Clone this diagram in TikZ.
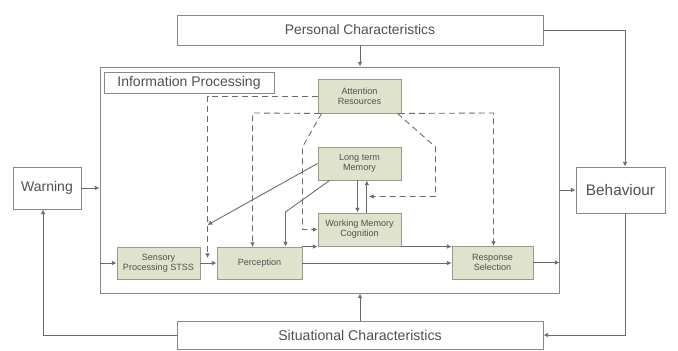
\documentclass[tikz,border=0pt]{standalone}
\usepackage{fontspec}
\setmainfont{Liberation Sans}
\usetikzlibrary{arrows.meta,calc}
\definecolor{boxfill}{HTML}{E0E3CC}
\definecolor{boxline}{HTML}{9A9A8A}
\definecolor{lncol}{HTML}{6A6A6A}
\definecolor{txtcol}{HTML}{505050}
\begin{document}
\begin{tikzpicture}[x=0.75pt,y=-0.75pt,
  outer/.style={draw=lncol!80,line width=0.7pt,fill=white,inner sep=0pt,align=center,text=txtcol},
  proc/.style={draw=boxline,line width=0.7pt,fill=boxfill,inner sep=0pt,align=center,text=txtcol,font=\fontsize{6.8}{7.6}\selectfont},
  conn/.style={draw=lncol,line width=0.65pt,-{Latex[length=3.5pt,width=3.5pt]}},
  dconn/.style={conn,dash pattern=on 4.5pt off 3pt}]
\useasboundingbox (0,0) rectangle (678,350);
% outer boxes
\node[outer,minimum width=274.5pt,minimum height=22.5pt,font=\fontsize{10.4}{11}\selectfont] (pc) at (360,30) {Personal Characteristics};
\node[outer,minimum width=344.25pt,minimum height=169.5pt] (ip) at (329.5,180) {};
\node[outer,minimum width=127.5pt,minimum height=15.75pt,font=\fontsize{10.5}{11}\selectfont] (ipl) at (189,82.5) {Information Processing};
\node[outer,minimum width=51pt,minimum height=31.5pt,font=\fontsize{10.5}{11}\selectfont] (warn) at (47,188) {Warning};
\node[outer,minimum width=66.75pt,minimum height=34.5pt,font=\fontsize{11.5}{12}\selectfont] (beh) at (620.5,190) {Behaviour};
\node[outer,minimum width=274.5pt,minimum height=21pt,font=\fontsize{10.6}{11}\selectfont] (sc) at (360,335) {Situational Characteristics};
% process boxes
\node[proc,minimum width=62.25pt,minimum height=25.5pt] (ar) at (359.5,96) {Attention\\Resources};
\node[proc,minimum width=62.25pt,minimum height=24.75pt] (ltm) at (359.5,163.5) {Long term\\Memory};
\node[proc,minimum width=62.25pt,minimum height=24.75pt] (wm) at (359.5,229.5) {Working Memory\\Cognition};
\node[proc,minimum width=62.25pt,minimum height=24pt] (sp) at (158.5,263) {Sensory\\Processing STSS};
\node[proc,minimum width=63.75pt,minimum height=24pt] (perc) at (259.5,263) {Perception};
\node[proc,minimum width=60.75pt,minimum height=24.75pt] (rs) at (492.5,262.5) {Response\\Selection};
% helper coordinates
\coordinate (c1) at (207.5,225);
\coordinate (c2) at (207.5,258);
\coordinate (c3) at (285.5,212);
\coordinate (c4) at (369,196.5);
% outer connectors
\draw[conn] (pc.south) -- (pc.south |- ip.north);
\draw[conn] (pc.east) -| ([xshift=3.4pt]beh.north);
\draw[conn] ([xshift=3.4pt]beh.south) |- (sc.east);
\draw[conn] (sc.north) -- (sc.north |- ip.south);
\draw[conn] (sc.west) -| ([xshift=-3pt]warn.south);
\draw[conn] (warn.east) -- (warn.east -| ip.west);
\draw[conn] (ip.east |- beh.west) -- (beh.west);
% inner connectors
\draw[conn] (sp.west -| ip.west) -- (sp.west);
\draw[conn] (sp.east) -- (perc.west);
\draw[conn] (rs.east) -- (rs.east -| ip.east);
\draw[conn] (perc.east) -- (perc.east -| rs.west);
\draw[conn] (perc.north east) -- (perc.north east -| wm.west);
\draw[conn] (perc.north east -| wm.east) -- (perc.north east -| rs.west);
\draw[conn] ([xshift=-1.5pt]ltm.south) -- ([xshift=-1.5pt]wm.north);
\draw[conn] ([xshift=5.5pt]wm.north) -- ([xshift=5.5pt]ltm.south);
\draw[conn] (ltm.west) -- (c1);
\draw[conn] ([xshift=9pt]ltm.south west) -- (c3) -- (c3 |- perc.north);
% dashed connectors
\draw[dconn] (ar.west) -| (c2);
\draw[dconn] ([xshift=2pt]ar.south west) -- (252.5,113) -- (252.5,247);
\draw[dconn] ([xshift=-2pt]ar.south east) -- (493.5,113) -- (493.5,246);
\draw[dconn] ([xshift=3pt]ar.south west) -- (302.5,147) -- (302.5,229.5) -- (wm.west);
\draw[dconn] ([xshift=-3pt]ar.south east) -- (435.5,147) -- (435.5,196.5) -- (c4);
\end{tikzpicture}
\end{document}
